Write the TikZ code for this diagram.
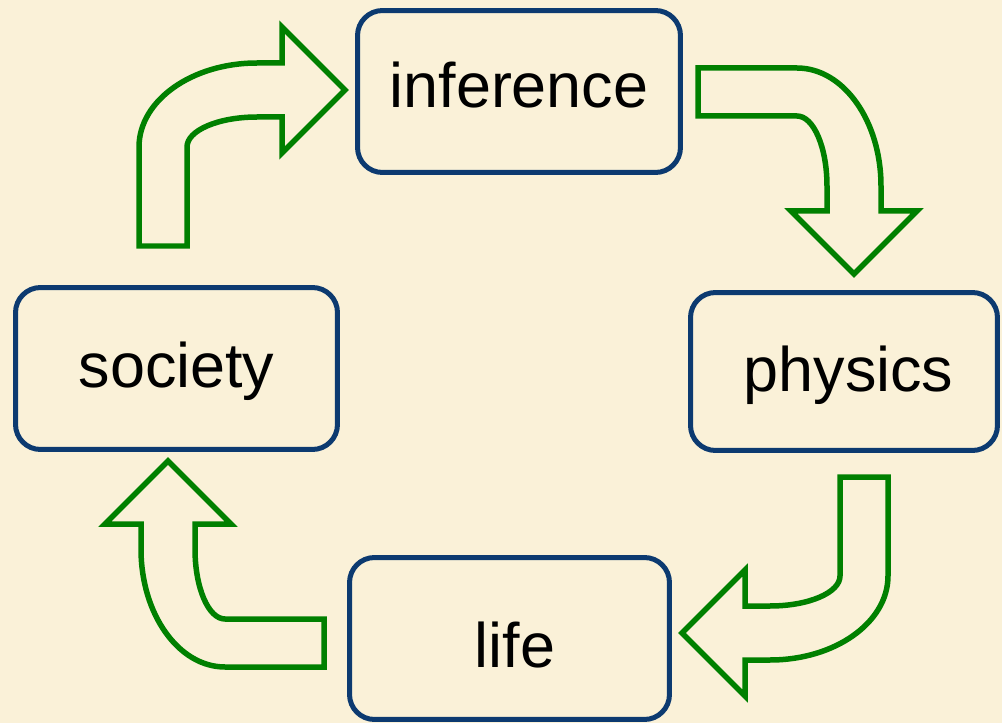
\documentclass[tikz,border=0pt]{standalone}
\usepackage{fontspec}
\setmainfont{Liberation Sans}
\definecolor{parchment}{RGB}{250,241,216}
\definecolor{boxblue}{RGB}{12,58,112}
\definecolor{arrowgreen}{RGB}{0,128,0}
\begin{document}
\begin{tikzpicture}[x=0.02cm, y=-0.02cm,
    topic/.style={draw=boxblue, line width=0.1cm, rounded corners=0.5cm,
      minimum width=6.46cm, minimum height=3.24cm, inner sep=0pt,
      font=\fontsize{35.8}{43}\selectfont, text depth=0pt},
    bentarrow/.pic={
      \draw[arrowgreen, line width=0.11cm, line join=miter]
        (-118,99) -- (-118,0)
        .. controls (-118,-46.4) and (-65.2,-84) .. (0,-84)
        -- (25,-84) -- (25,-120) -- (88,-57) -- (25,6) -- (25,-30) -- (0,-30)
        .. controls (-38.7,-30) and (-70,-16.6) .. (-70,0)
        -- (-70,99) -- cycle;
    }]
  \fill[parchment] (0,0) rectangle (1002,723);

  \node[topic, text height=0.66cm] (inference) at (519,91.5) {inference};
  \node[topic, text height=0.82cm, minimum width=6.14cm, minimum height=3.16cm]
    (physics) at (844,371.5) {\hspace{0.18cm}physics};
  \node[topic, text height=1.18cm, minimum width=6.4cm] (life) at (509.5,638.5) {\hspace{0.22cm}life};
  \node[topic, text height=0.78cm, minimum width=6.44cm] (society) at (176.5,368.5) {society};

  \pic at (257,147) {bentarrow};
  \pic[rotate=-90] at (797,186) {bentarrow};
  \pic[rotate=180] at (770,576) {bentarrow};
  \pic[rotate=90] at (225,549) {bentarrow};
\end{tikzpicture}
\end{document}
